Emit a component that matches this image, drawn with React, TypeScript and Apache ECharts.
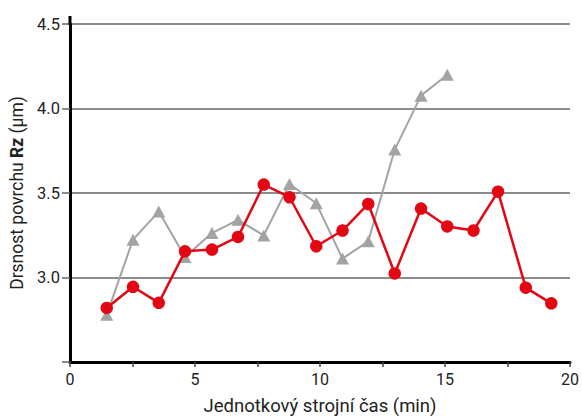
import React, { useEffect, useRef } from "react";
import * as echarts from "echarts";

const timeMin = [1.47, 2.52, 3.55, 4.6, 5.68, 6.72, 7.75, 8.78, 9.85, 10.9, 11.93, 12.99, 14.04, 15.09, 16.14, 17.12, 18.23, 19.25];
const redRz = [2.82, 2.945, 2.85, 3.155, 3.165, 3.24, 3.55, 3.475, 3.185, 3.278, 3.435, 3.024, 3.408, 3.302, 3.278, 3.508, 2.94, 2.847];
const grayRz = [2.78, 3.224, 3.39, 3.122, 3.263, 3.341, 3.249, 3.553, 3.439, 3.112, 3.214, 3.757, 4.076, 4.2];

const xTitle = "Jednotkový strojní čas (min)";
const FONT = "Roboto, 'DejaVu Sans', sans-serif";

export default function App() {
  const ref = useRef<HTMLDivElement>(null);
  useEffect(() => {
    if (!ref.current) return;
    const chart = echarts.init(ref.current, undefined, { renderer: "svg" });
    const redData = timeMin.map((x, i) => [x, redRz[i]]);
    const grayData = grayRz.map((y, i) => [timeMin[i], y]);
    chart.setOption({
      animation: false,
      backgroundColor: "#ffffff",
      textStyle: { fontFamily: FONT },
      grid: { left: 70, right: 9, top: 24, bottom: 56 },
      xAxis: {
        type: "value",
        min: 0,
        max: 20,
        interval: 2.5,
        axisLine: { show: true, lineStyle: { color: "#000", width: 3 } },
        axisTick: { show: true, inside: false, length: 5, lineStyle: { color: "#444", width: 1.5 } },
        axisLabel: {
          color: "#222",
          fontSize: 16,
          fontFamily: FONT,
          margin: 9,
          formatter: (v: number) => (v % 5 === 0 ? String(v) : ""),
        },
        splitLine: { show: false },
        name: xTitle,
        nameLocation: "middle",
        nameGap: 34,
        nameTextStyle: { color: "#222", fontSize: 18.5, fontFamily: FONT },
      },
      yAxis: {
        type: "value",
        min: 2.5,
        max: 4.5,
        interval: 0.5,
        axisLine: { show: true, lineStyle: { color: "#000", width: 3 } },
        axisTick: { show: true, inside: false, length: 8, lineStyle: { color: "#666", width: 1.5 } },
        axisLabel: {
          color: "#222",
          fontSize: 16.5,
          fontFamily: FONT,
          margin: 10,
          formatter: (v: number) => (v === 2.5 ? "" : v.toFixed(1)),
        },
        splitLine: { show: true, lineStyle: { color: "#666", width: 1.5 } },
        name: "{n|Drsnost povrchu }{b|Rz}{n| (µm)}",
        nameLocation: "middle",
        nameGap: 44,
        nameTextStyle: {
          rich: {
            n: { fontSize: 17.5, color: "#222", fontFamily: FONT },
            b: { fontSize: 17.5, color: "#222", fontFamily: FONT, fontWeight: "bold" },
          },
        },
      },
      graphic: [
        {
          type: "line",
          shape: { x1: 70, y1: 16, x2: 70, y2: 25 },
          style: { stroke: "#000", lineWidth: 3 },
          z: 10,
        },
      ],
      series: [
        {
          type: "line",
          data: grayData,
          symbol: "triangle",
          symbolSize: [13, 12],
          lineStyle: { color: "#a3a3a3", width: 2 },
          itemStyle: { color: "#a3a3a3" },
          z: 2,
        },
        {
          type: "line",
          data: redData,
          symbol: "circle",
          symbolSize: 12.5,
          lineStyle: { color: "#e30613", width: 2.5 },
          itemStyle: { color: "#e30613" },
          z: 3,
        },
      ],
    });
    return () => chart.dispose();
  }, []);
  return <div ref={ref} style={{ width: 582, height: 420, position: "absolute", left: 0, top: 0 }} />;
}
